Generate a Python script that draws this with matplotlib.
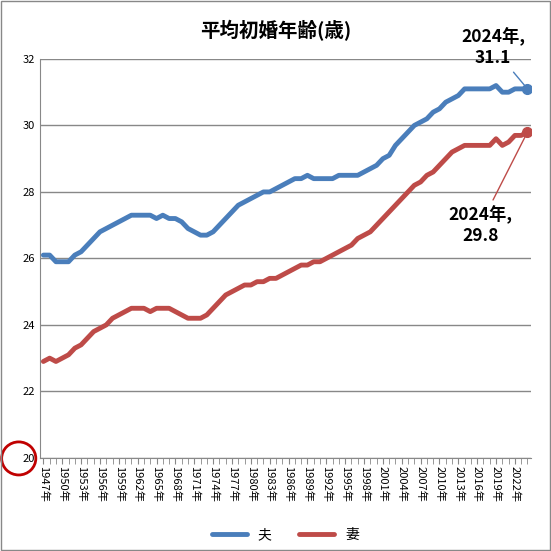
import matplotlib.pyplot as plt
from matplotlib.patches import Ellipse, Rectangle

plt.rcParams['font.family'] = ['Noto Sans CJK JP', 'DejaVu Sans']

years = list(range(1947, 2025))
husband = [26.1, 26.1, 25.9, 25.9, 25.9, 26.1, 26.2, 26.4, 26.6, 26.8,
           26.9, 27.0, 27.1, 27.2, 27.3, 27.3, 27.3, 27.3, 27.2, 27.3,
           27.2, 27.2, 27.1, 26.9, 26.8, 26.7, 26.7, 26.8, 27.0, 27.2,
           27.4, 27.6, 27.7, 27.8, 27.9, 28.0, 28.0, 28.1, 28.2, 28.3,
           28.4, 28.4, 28.5, 28.4, 28.4, 28.4, 28.4, 28.5, 28.5, 28.5,
           28.5, 28.6, 28.7, 28.8, 29.0, 29.1, 29.4, 29.6, 29.8, 30.0,
           30.1, 30.2, 30.4, 30.5, 30.7, 30.8, 30.9, 31.1, 31.1, 31.1,
           31.1, 31.1, 31.2, 31.0, 31.0, 31.1, 31.1, 31.1]
wife = [22.9, 23.0, 22.9, 23.0, 23.1, 23.3, 23.4, 23.6, 23.8, 23.9,
        24.0, 24.2, 24.3, 24.4, 24.5, 24.5, 24.5, 24.4, 24.5, 24.5,
        24.5, 24.4, 24.3, 24.2, 24.2, 24.2, 24.3, 24.5, 24.7, 24.9,
        25.0, 25.1, 25.2, 25.2, 25.3, 25.3, 25.4, 25.4, 25.5, 25.6,
        25.7, 25.8, 25.8, 25.9, 25.9, 26.0, 26.1, 26.2, 26.3, 26.4,
        26.6, 26.7, 26.8, 27.0, 27.2, 27.4, 27.6, 27.8, 28.0, 28.2,
        28.3, 28.5, 28.6, 28.8, 29.0, 29.2, 29.3, 29.4, 29.4, 29.4,
        29.4, 29.4, 29.6, 29.4, 29.5, 29.7, 29.7, 29.8]

blue = '#4a7ebb'
red = '#be4b48'

fig = plt.figure(figsize=(5.51, 5.51), dpi=100)
ax = fig.add_axes([0.073, 0.169, 0.89, 0.724])
ax.plot(years, husband, color=blue, lw=3.5, label='夫', solid_capstyle='round')
ax.plot(years, wife, color=red, lw=3.5, label='妻', solid_capstyle='round')
ax.plot(years[-1], husband[-1], 'o', color=blue, ms=7)
ax.plot(years[-1], wife[-1], 'o', color=red, ms=7)

ax.set_xlim(1946.5, 2024.5)
ax.set_ylim(20, 32)
ax.set_yticks(range(20, 33, 2))
ax.set_xticks(years[::3])
ax.set_xticklabels([f'{y}年' for y in years[::3]], rotation=-90, fontsize=8)
ax.set_xticks(years, minor=True)
ax.tick_params(axis='x', which='both', length=4, direction='out', color='#888888', pad=2)
ax.tick_params(axis='y', length=0, labelsize=8)
ax.grid(axis='y', color='#888888', lw=1)
for s in ['top', 'right']:
    ax.spines[s].set_visible(False)
for s in ['left', 'bottom']:
    ax.spines[s].set_color('#888888')

fig.text(0.5, 0.945, '平均初婚年齢(歳)', ha='center', va='center', fontsize=14,
         fontweight='bold')

ax.annotate(f'2024年,\n{husband[-1]}', xy=(years[-1], husband[-1]),
            xytext=(2018.5, 31.75), ha='center', va='bottom', fontsize=12.5,
            fontweight='bold', annotation_clip=False,
            arrowprops=dict(arrowstyle='-', color=blue, lw=1))
ax.annotate(f'2024年,\n{wife[-1]}', xy=(years[-1], wife[-1]),
            xytext=(2016.5, 27.6), ha='center', va='top', fontsize=12.5,
            fontweight='bold',
            arrowprops=dict(arrowstyle='-', color=red, lw=1))

ax.legend(loc='upper center', bbox_to_anchor=(0.5, -0.145), ncol=2, frameon=False,
          fontsize=10, handlelength=2.5)

fig.patches.append(Ellipse((0.034, 0.168), 0.062, 0.06, transform=fig.transFigure,
                           fill=False, ec='#c00000', lw=2))
fig.patches.append(Rectangle((0.002, 0.002), 0.996, 0.996, transform=fig.transFigure,
                             fill=False, ec='#888888', lw=1))

fig.savefig('out.png', dpi=100)
